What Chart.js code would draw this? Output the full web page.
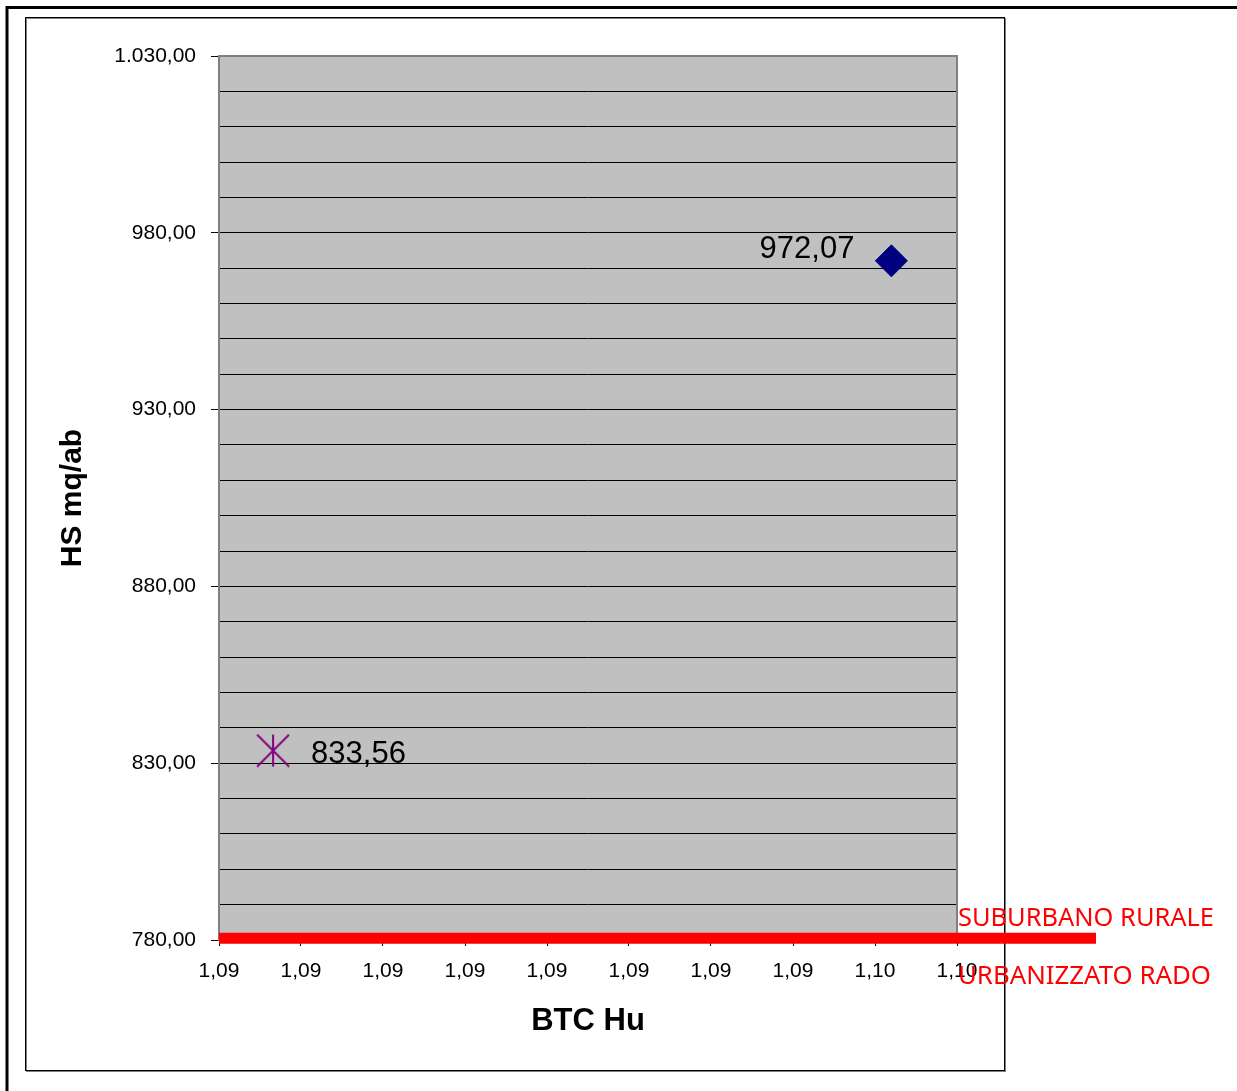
<!DOCTYPE html>
<html>
<head>
<meta charset="utf-8">
<script src="https://cdn.jsdelivr.net/npm/chart.js@4"></script>
<style>
  body { margin: 0; background: #fff; }
  #wrap { position: relative; width: 1237px; height: 1091px; }
</style>
</head>
<body>
<div id="wrap"><canvas id="scatterChart" width="1237" height="1091"></canvas></div>
<script>
// data
const seriesNames = ['Comune', 'Riferimento'];
const btcValues = [1.0951, 1.09133];
const hsValues = [972.07, 833.56];
const pointLabels = ['972,07', '833,56'];
const xTickLabels = ['1,09', '1,09', '1,09', '1,09', '1,09', '1,09', '1,09', '1,09', '1,10', '1,10'];
const yMin = 780, yMax = 1030, yLabelStep = 50;
const thresholdValue = 780.5;
const thresholdLabels = ['SUBURBANO RURALE', 'URBANIZZATO RADO'];

function formatIt(v) {
    const parts = v.toFixed(2).split('.');
    const intPart = parts[0].replace(/\B(?=(\d{3})+(?!\d))/g, '.');
    return intPart + ',' + parts[1];
}

function isLabelled(v) {
    return Math.round(v - yMin) % yLabelStep === 0;
}

// asterisk marker like the excel one
function makeStar() {
    const c = document.createElement('canvas');
    c.width = 34; c.height = 34;
    const g = c.getContext('2d');
    g.strokeStyle = '#800080';
    g.lineWidth = 2;
    g.beginPath();
    g.moveTo(1, 1); g.lineTo(33, 33);
    g.moveTo(33, 1); g.lineTo(1, 33);
    g.moveTo(17, 1); g.lineTo(17, 33);
    g.stroke();
    return c;
}

const framePlugin = {
    id: 'frame',
    beforeDraw(chart) {
        const ctx = chart.ctx;
        const a = chart.chartArea;
        ctx.save();
        ctx.fillStyle = '#fff';
        ctx.fillRect(0, 0, chart.width, chart.height);
        // outer border
        ctx.strokeStyle = '#000';
        ctx.lineWidth = 3;
        ctx.beginPath();
        ctx.moveTo(7, chart.height + 5);
        ctx.lineTo(7, 7.5);
        ctx.lineTo(chart.width + 5, 7.5);
        ctx.stroke();
        // chart frame
        ctx.lineWidth = 1;
        ctx.strokeStyle = '#808080';
        ctx.strokeRect(26.5, 18.5, 979, 1053);
        ctx.strokeStyle = '#000';
        ctx.strokeRect(25.5, 17.5, 979, 1053);
        // plot background
        ctx.fillStyle = '#c0c0c0';
        ctx.fillRect(a.left, a.top, a.right - a.left, a.bottom - a.top);
        ctx.restore();
    },
    afterDatasetsDraw(chart) {
        const ctx = chart.ctx;
        const a = chart.chartArea;
        const y = chart.scales.y.getPixelForValue(thresholdValue);
        ctx.save();
        ctx.strokeStyle = '#808080';
        ctx.lineWidth = 2;
        ctx.strokeRect(a.left, a.top, a.right - a.left, a.bottom - a.top);
        // threshold line
        ctx.strokeStyle = '#ff0000';
        ctx.lineWidth = 11;
        ctx.beginPath();
        ctx.moveTo(a.left, y);
        ctx.lineTo(a.right + 139, y);
        ctx.stroke();
        ctx.fillStyle = '#ff0000';
        ctx.font = '25.8px "Noto Sans"';
        ctx.textAlign = 'left';
        ctx.textBaseline = 'alphabetic';
        ctx.fillText(thresholdLabels[0], a.right + 1, y - 12, 256);
        ctx.fillText(thresholdLabels[1], a.right + 1, y + 46);
        // point labels
        ctx.fillStyle = '#000';
        ctx.font = '31px "Liberation Sans", Arial';
        ctx.textBaseline = 'middle';
        const p0 = chart.getDatasetMeta(0).data[0];
        ctx.textAlign = 'right';
        ctx.fillText(pointLabels[0], p0.x - 37, p0.y - 11);
        const p1 = chart.getDatasetMeta(1).data[0];
        ctx.textAlign = 'left';
        ctx.fillText(pointLabels[1], p1.x + 38, p1.y + 4);
        ctx.restore();
    }
};

new Chart(document.getElementById('scatterChart').getContext('2d'), {
    type: 'scatter',
    data: {
        datasets: [{
            label: seriesNames[0],
            data: [{ x: btcValues[0], y: hsValues[0] }],
            pointStyle: 'rectRot',
            pointRadius: 16,
            backgroundColor: '#000080',
            borderColor: '#000080',
            borderWidth: 1
        }, {
            label: seriesNames[1],
            data: [{ x: btcValues[1], y: hsValues[1] }],
            pointStyle: makeStar(),
            pointRadius: 17
        }]
    },
    options: {
        responsive: false,
        animation: false,
        layout: { padding: { left: 55, top: 56, right: 280, bottom: 51 } },
        plugins: {
            legend: { display: false },
            tooltip: { enabled: false }
        },
        scales: {
            x: {
                type: 'linear',
                min: 1.091,
                max: 1.0955,
                afterBuildTicks(scale) {
                    scale.ticks = xTickLabels.map((t, i) => ({ value: 1.091 + i * 0.0005 }));
                },
                afterFit(scale) { scale.height = 100; },
                grid: { drawOnChartArea: false, drawTicks: true, tickLength: 6, color: '#000' },
                border: { display: true, color: '#808080' },
                ticks: {
                    padding: 13,
                    color: '#000',
                    font: { family: '"Liberation Sans", Arial', size: 21 },
                    maxRotation: 0,
                    autoSkip: false,
                    callback: (v, i) => xTickLabels[i]
                },
                title: {
                    display: true,
                    text: 'BTC Hu',
                    color: '#000',
                    padding: 0,
                    font: { family: '"Liberation Sans", Arial', size: 31, weight: 'bold' }
                }
            },
            y: {
                min: yMin,
                max: yMax,
                afterFit(scale) { scale.width = 164; },
                grid: {
                    color: '#000',
                    lineWidth: 1,
                    tickLength: 8,
                    tickColor: c => (c.tick && isLabelled(c.tick.value)) ? '#000' : 'rgba(0,0,0,0)'
                },
                border: { display: true, color: '#808080' },
                ticks: {
                    stepSize: 10,
                    padding: 15,
                    color: '#000',
                    autoSkip: false,
                    font: { family: '"Liberation Sans", Arial', size: 21 },
                    callback: v => isLabelled(v) ? formatIt(v) : ''
                },
                title: {
                    display: true,
                    text: 'HS mq/ab',
                    color: '#000',
                    padding: 0,
                    font: { family: '"Liberation Sans", Arial', size: 30, weight: 'bold' }
                }
            }
        }
    },
    plugins: [framePlugin]
});
</script>
</body>
</html>
